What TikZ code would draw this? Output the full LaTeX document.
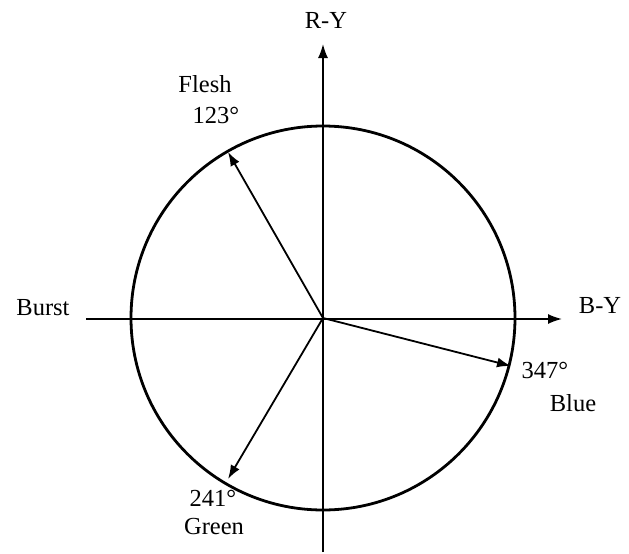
\documentclass[tikz,border=0pt]{standalone}
\usepackage{fontspec}
\setmainfont{Liberation Serif}
\usetikzlibrary{arrows.meta}
\begin{document}
\begin{tikzpicture}[x=1pt,y=-1pt,
  lbl/.style={font=\fontsize{24.5}{26}\selectfont, inner sep=0pt, anchor=center},
  axis/.style={line width=1.7pt,-{Latex[length=14pt,width=10pt]}},
  vec/.style={line width=1.8pt,-{Latex[length=14pt,width=10pt]}},
  ring/.style={line width=2.8pt}]
\useasboundingbox (0,0) rectangle (629,554);
\coordinate (o) at (323,318);
\coordinate (xl) at (86,319);
\coordinate (xr) at (562,319);
\coordinate (yb) at (323,552);
\coordinate (yt) at (323,44);
\draw[ring] (o) circle[radius=192];
\draw[axis] (xl) -- (xr);
\draw[axis] (yb) -- (yt);
\coordinate (fl) at (228,152);
\coordinate (bl) at (511,366);
\coordinate (gr) at (228,479);
\draw[vec] (o) -- (fl);
\draw[vec] (o) -- (bl);
\draw[vec] (o) -- (gr);
\node[lbl] (ry) at (326,20) {R-Y};
\node[lbl] (by) at (600,306) {B-Y};
\node[lbl] (bu) at (43,308) {Burst};
\node[lbl] (fls) at (205,84) {Flesh};
\node[lbl] (f123) at (216,115) {123°};
\node[lbl] (b347) at (545,370) {347°};
\node[lbl] (blu) at (573,403) {Blue};
\node[lbl] (g241) at (213,498) {241°};
\node[lbl] (grn) at (214,527) {Green};
\end{tikzpicture}
\end{document}
